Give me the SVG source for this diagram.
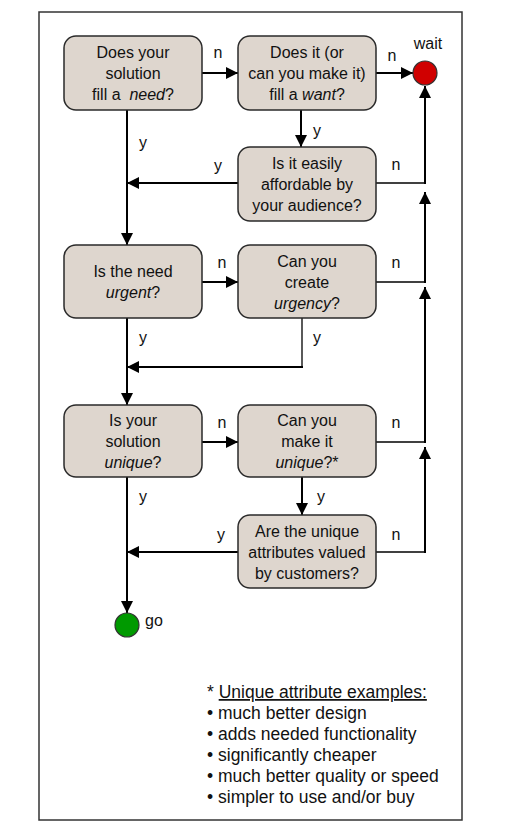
<svg xmlns="http://www.w3.org/2000/svg" width="512" height="838" viewBox="0 0 512 838">
<defs>
<marker id="ah" viewBox="0 0 12 12" refX="12" refY="6" markerWidth="12" markerHeight="12" markerUnits="userSpaceOnUse" orient="auto">
<path d="M0,0 L12,6 L0,12 z" fill="#000"/>
</marker>
</defs>
<style>
.box{fill:#ded6ce;stroke:#2a2a2a;stroke-width:1.5}
.t{font-family:"Liberation Sans",Arial,sans-serif;font-size:16px;fill:#111;text-anchor:middle}
.lbl{font-family:"Liberation Sans",Arial,sans-serif;font-size:16px;fill:#111;text-anchor:middle}
.it{font-style:italic}
.c{fill:none;stroke:#000;stroke-width:2}
.thin{fill:none;stroke:#000;stroke-width:1.3}
.a{marker-end:url(#ah)}
.fn{font-family:"Liberation Sans",Arial,sans-serif;font-size:17.5px;fill:#111}
</style>
<rect x="39" y="12" width="423" height="808" fill="#fff" stroke="#333" stroke-width="1.5"/>

<g id="connectors">
<line class="c a" x1="202" y1="73" x2="238" y2="73"/>
<line class="c a" x1="376" y1="73" x2="413" y2="73"/>
<line class="c a" x1="127" y1="110" x2="127" y2="245"/>
<line class="c a" x1="301" y1="110" x2="301" y2="147"/>
<line class="c a" x1="238" y1="183" x2="127" y2="183"/>
<polyline class="thin" points="376,183 425,183"/>
<line class="c a" x1="425" y1="184" x2="425" y2="86"/>
<line class="c a" x1="202" y1="282" x2="238" y2="282"/>
<polyline class="thin" points="376,282 425,282"/>
<line class="c a" x1="425" y1="283" x2="425" y2="192"/>
<line class="c a" x1="127" y1="318" x2="127" y2="405"/>
<polyline class="thin" points="302,318 302,367"/>
<line class="c a" x1="303" y1="367" x2="127" y2="367"/>
<line class="c a" x1="202" y1="442" x2="238" y2="442"/>
<polyline class="thin" points="376,442 425,442"/>
<line class="c a" x1="425" y1="443" x2="425" y2="287"/>
<line class="c a" x1="302" y1="477" x2="302" y2="515"/>
<line class="c a" x1="238" y1="552" x2="127" y2="552"/>
<polyline class="thin" points="376,552 425,552"/>
<line class="c a" x1="425" y1="553" x2="425" y2="447"/>
<line class="c a" x1="127" y1="477" x2="127" y2="613"/>
<text class="lbl" x="218" y="58">n</text>
<text class="lbl" x="392" y="61">n</text>
<text class="lbl" x="143" y="148">y</text>
<text class="lbl" x="317" y="136">y</text>
<text class="lbl" x="218" y="171">y</text>
<text class="lbl" x="396" y="170">n</text>
<text class="lbl" x="222" y="268">n</text>
<text class="lbl" x="396" y="268">n</text>
<text class="lbl" x="143" y="343">y</text>
<text class="lbl" x="317" y="343">y</text>
<text class="lbl" x="222" y="428">n</text>
<text class="lbl" x="396" y="428">n</text>
<text class="lbl" x="143" y="502">y</text>
<text class="lbl" x="321" y="502">y</text>
<text class="lbl" x="221" y="540">y</text>
<text class="lbl" x="396" y="540">n</text>
</g>

<g id="n1">
<rect class="box" x="64" y="36" width="138" height="74" rx="12"/>
<text class="t" x="133" y="58">Does your</text>
<text class="t" x="133" y="79">solution</text>
<text class="t" x="133" y="100" style="white-space:pre">fill a  <tspan class="it">need</tspan>?</text>
</g>
<g id="n2">
<rect class="box" x="238" y="36" width="138" height="74" rx="12"/>
<text class="t" x="307" y="58">Does it (or</text>
<text class="t" x="307" y="79">can you make it)</text>
<text class="t" x="307" y="100">fill a <tspan class="it">want</tspan>?</text>
</g>
<g id="wait">
<circle cx="425" cy="73" r="12" fill="#d00000" stroke="#333" stroke-width="1.2"/>
<text class="lbl" x="428" y="49">wait</text>
</g>
<g id="n3">
<rect class="box" x="238" y="147" width="138" height="74" rx="12"/>
<text class="t" x="307" y="169">Is it easily</text>
<text class="t" x="307" y="190">affordable by</text>
<text class="t" x="307" y="211">your audience?</text>
</g>
<g id="n4">
<rect class="box" x="64" y="245" width="138" height="73" rx="12"/>
<text class="t" x="133" y="277">Is the need</text>
<text class="t" x="133" y="298"><tspan class="it">urgent</tspan>?</text>
</g>
<g id="n5">
<rect class="box" x="238" y="245" width="138" height="73" rx="12"/>
<text class="t" x="307" y="267">Can you</text>
<text class="t" x="307" y="288">create</text>
<text class="t" x="307" y="309"><tspan class="it">urgency</tspan>?</text>
</g>
<g id="n6">
<rect class="box" x="64" y="405" width="138" height="72" rx="12"/>
<text class="t" x="133" y="426">Is your</text>
<text class="t" x="133" y="447">solution</text>
<text class="t" x="133" y="468"><tspan class="it">unique</tspan>?</text>
</g>
<g id="n7">
<rect class="box" x="238" y="405" width="138" height="72" rx="12"/>
<text class="t" x="307" y="426">Can you</text>
<text class="t" x="307" y="447">make it</text>
<text class="t" x="307" y="468"><tspan class="it">unique</tspan>?*</text>
</g>
<g id="n8">
<rect class="box" x="238" y="515" width="138" height="73" rx="12"/>
<text class="t" x="307" y="537">Are the unique</text>
<text class="t" x="307" y="558">attributes valued</text>
<text class="t" x="307" y="579">by customers?</text>
</g>
<g id="go">
<circle cx="127" cy="625" r="12" fill="#009a00" stroke="#333" stroke-width="1.2"/>
<text class="lbl" x="154" y="626">go</text>
</g>

<g id="footnote">
<text class="fn" x="207" y="698">* <tspan text-decoration="underline">Unique attribute examples:</tspan></text>
<text class="fn" x="207" y="719">• much better design</text>
<text class="fn" x="207" y="740">• adds needed functionality</text>
<text class="fn" x="207" y="761">• significantly cheaper</text>
<text class="fn" x="207" y="782">• much better quality or speed</text>
<text class="fn" x="207" y="803">• simpler to use and/or buy</text>
</g>
</svg>
